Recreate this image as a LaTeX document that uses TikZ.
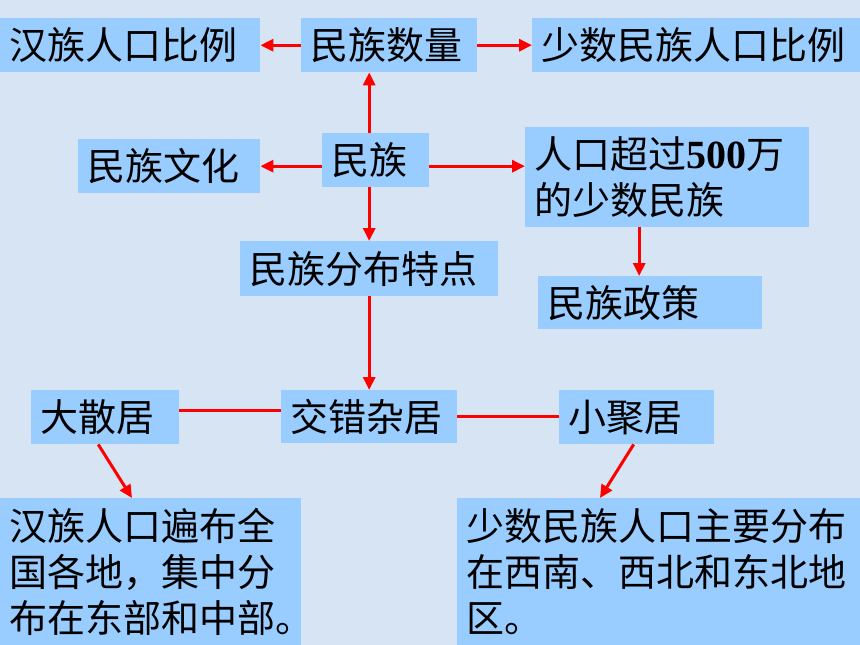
\documentclass[tikz,border=0pt]{standalone}
\usepackage{fontspec}
\setmainfont{Noto Sans CJK SC}
\newfontfamily\numfont{Liberation Serif}
\usetikzlibrary{arrows.meta,calc}
\definecolor{bgblue}{RGB}{214,228,243}
\definecolor{boxblue}{RGB}{153,204,255}
\definecolor{arrred}{RGB}{255,0,0}
\tikzset{
  box/.style={fill=boxblue, anchor=north west, inner xsep=9pt, inner ysep=0pt,
    align=left, font=\fontsize{38pt}{46pt}\selectfont},
  arr/.style={draw=arrred, line width=3pt, -{Triangle[length=13pt,width=12pt]}},
  link/.style={draw=arrred, line width=3pt},
}
\begin{document}
\begin{tikzpicture}[x=1pt,y=-1pt]
\fill[bgblue] (0,0) rectangle (860,645);
\useasboundingbox (0,0) rectangle (860,645);
\begin{scope}
\clip (0,0) rectangle (860,645);
\node[box, minimum width=260pt, minimum height=54pt, text width=242pt] (han) at (0,18) {汉族人口比例};
\node[box, minimum width=176pt, minimum height=54pt, text width=158pt] (num) at (301,18) {民族数量};
\node[box, minimum width=330pt, minimum height=54pt, text width=312pt] (minor) at (532,18) {少数民族人口比例};
\node[box, minimum width=182pt, minimum height=54pt, text width=164pt] (wenhua) at (78,139) {民族文化};
\node[box, minimum width=107pt, minimum height=54pt, text width=89pt] (minzu) at (322,133) {民族};
\node[box, minimum width=284pt, minimum height=100pt, text width=266pt] (pop) at (525,127) {人口超过{\numfont\bfseries\fontsize{40pt}{46pt}\selectfont 500}万\\的少数民族};
\node[box, minimum width=258pt, minimum height=55pt, text width=240pt] (fenbu) at (240,241) {民族分布特点};
\node[box, minimum width=224pt, minimum height=53pt, text width=206pt] (policy) at (538,276) {民族政策};
\node[box, minimum width=176pt, minimum height=53pt, text width=158pt] (jiaocuo) at (281,390) {交错杂居};
\node[box, minimum width=148pt, minimum height=54pt, text width=130pt] (dasan) at (31,390) {大散居};
\node[box, minimum width=155pt, minimum height=54pt, text width=137pt] (xiaoju) at (559,390) {小聚居};
\node[box, minimum width=301pt, minimum height=147pt, text width=283pt] (hanbox) at (0,498) {汉族人口遍布全\\国各地，集中分\\布在东部和中部。};
\node[box, minimum width=403pt, minimum height=147pt, text width=385pt] (minbox) at (457,498) {少数民族人口主要分布\\在西南、西北和东北地\\区。};
\end{scope}
% connectors
\draw[arr] (num.west) -- (han.east);
\draw[arr] (num.east) -- (minor.west);
\draw[arr] (minzu.north -| fenbu.north) -- (num.south -| fenbu.north);
\draw[arr] (minzu.west |- wenhua.east) -- (wenhua.east);
\draw[arr] ([yshift=-6pt]minzu.east) -- ([yshift=-6pt]minzu.east -| pop.west);
\draw[arr] (minzu.south -| fenbu.north) -- (fenbu.north);
\draw[arr] ([xshift=-28pt]pop.south) -- ([xshift=-28pt]pop.south |- policy.north);
\draw[arr] (fenbu.south) -- (jiaocuo.north);
\draw[link] ([yshift=7pt]dasan.east) -- ([yshift=7pt]dasan.east -| jiaocuo.west);
\draw[link] (jiaocuo.east) -- (jiaocuo.east -| xiaoju.west);
\draw[arr] ([xshift=-7pt]dasan.south) -- ($(hanbox.north west)+(132,0)$);
\draw[arr] ([xshift=-3pt]xiaoju.south) -- ($(minbox.north west)+(143,0)$);
\end{tikzpicture}
\end{document}
